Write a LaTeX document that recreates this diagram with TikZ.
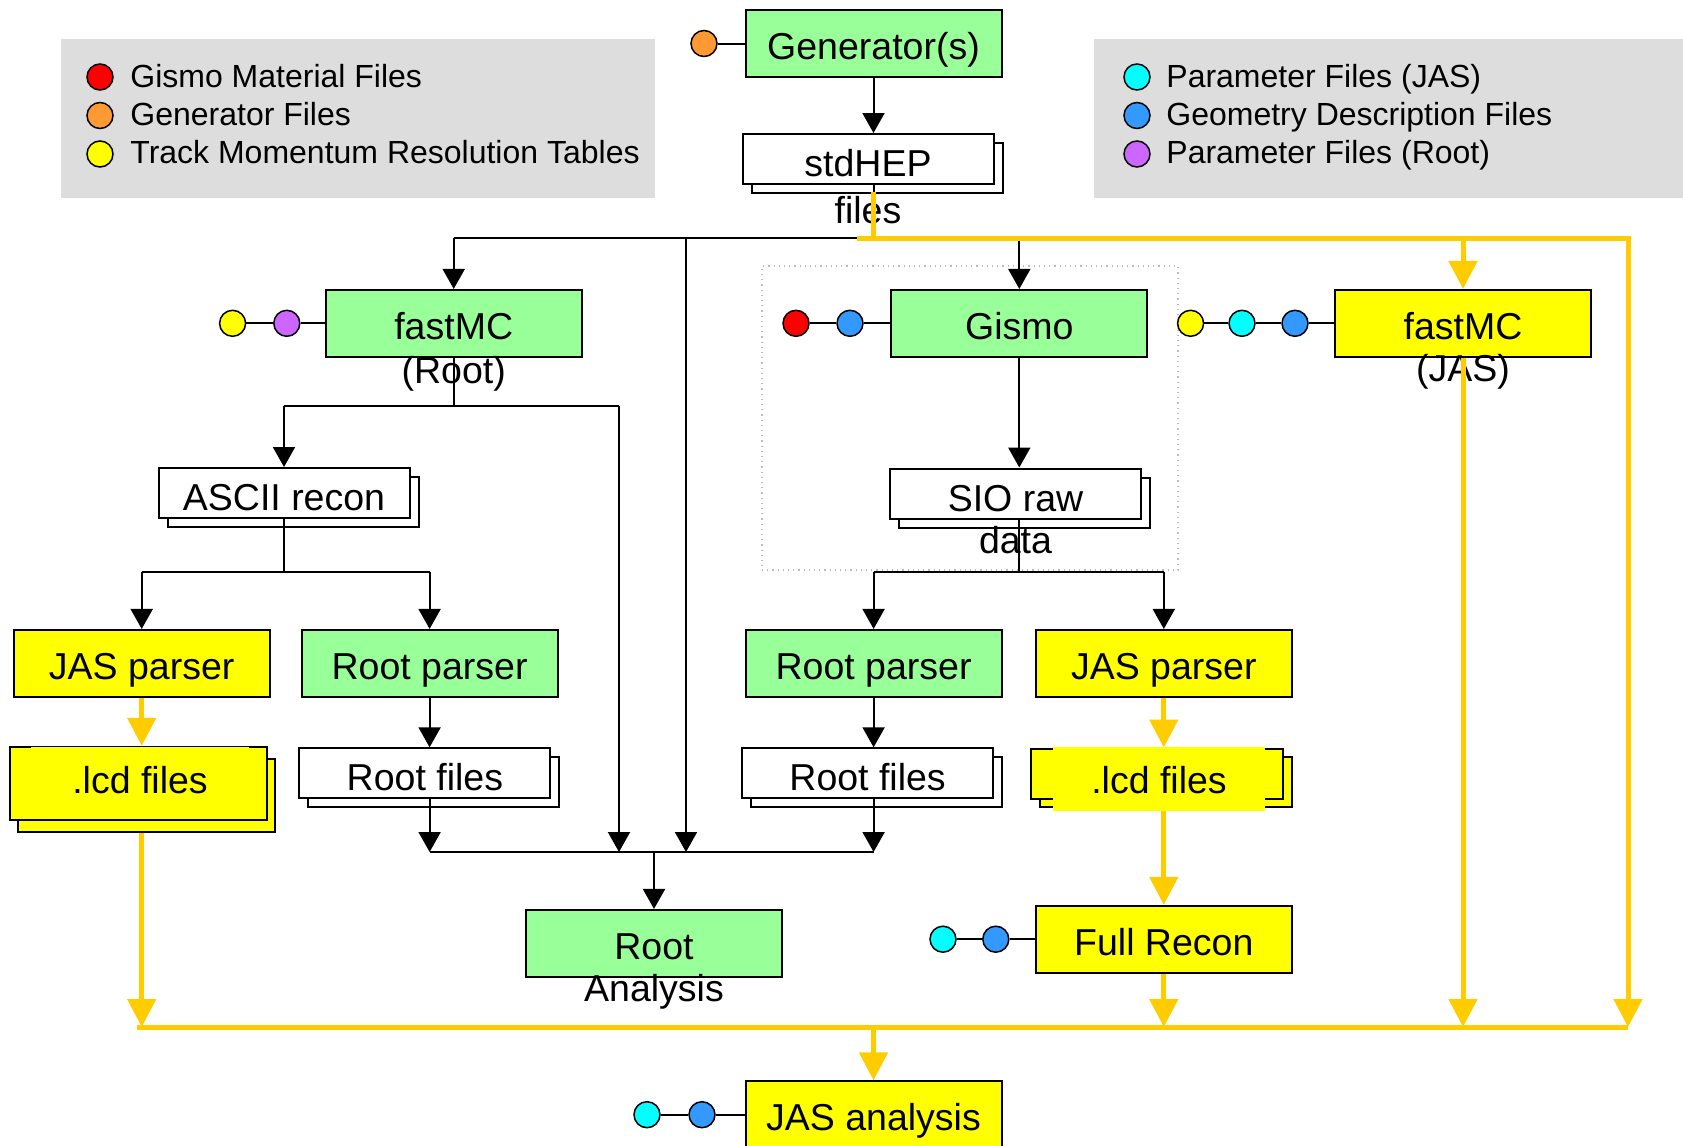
\documentclass[tikz,border=0pt]{standalone}
\usepackage{fontspec}
\setmainfont{Liberation Sans}
\usetikzlibrary{arrows.meta,shadows,calc}
\definecolor{boxgreen}{HTML}{99FF99}
\definecolor{boxyellow}{HTML}{FFFF00}
\definecolor{gold}{HTML}{FFCC00}
\definecolor{leggray}{HTML}{DDDDDD}
\definecolor{dotred}{HTML}{FF0000}
\definecolor{dotorange}{HTML}{FF9933}
\definecolor{dotyellow}{HTML}{FFFF00}
\definecolor{dotcyan}{HTML}{00FFFF}
\definecolor{dotblue}{HTML}{3399FF}
\definecolor{dotpurple}{HTML}{CC66FF}
\definecolor{grpgray}{HTML}{BBBBBB}
\begin{document}
\begin{tikzpicture}[x=0.5pt,y=-0.5pt,
  boxfont/.style={font=\fontsize{18.75}{22}\selectfont},
  box/.style={boxfont,draw=black,line width=1pt,inner sep=0pt,minimum width=128pt,minimum height=33.35pt,text height=16pt,text depth=0pt},
  grn/.style={box,fill=boxgreen},
  ylw/.style={box,fill=boxyellow},
  stackbase/.style={box,minimum width=125.5pt,minimum height=25pt,text height=17.5pt},
  wstack/.style={stackbase,fill=white,copy shadow={shadow xshift=4.5pt,shadow yshift=-4.5pt,fill=white,draw=black,line width=1pt}},
  sub/.style={boxfont,inner sep=0pt,anchor=base},
  lcdtxt/.style={boxfont,fill=boxyellow,inner sep=0pt,minimum width=109pt,minimum height=32pt,text height=14.5pt,text depth=0pt},
  legbox/.style={fill=leggray,inner sep=0pt},
  legtxt/.style={font=\fontsize{16}{19}\selectfont,inner sep=0pt,anchor=base west},
  dot/.style={circle,draw=black,line width=0.75pt,minimum size=13pt,inner sep=0pt},
  conn/.style={draw=black,line width=1pt},
  arr/.style={conn,-{Triangle[length=10pt,width=11pt]}},
  yconn/.style={draw=gold,line width=2.5pt},
  yarr/.style={yconn,-{Triangle[length=14pt,width=14pt]}}
]
\useasboundingbox (0,0) rectangle (1683,1146);
\clip (0,0) rectangle (1683,1146);

% legends
\node[legbox,minimum width=297pt,minimum height=79.5pt] (legL) at (358,118.5) {};
\node[legbox,minimum width=295pt,minimum height=79.5pt] (legR) at (1389,118.5) {};
\node[dot,fill=dotred] (lgA) at (100,77) {};
\node[legtxt] (ltA) at (130,87) {Gismo Material Files};
\node[dot,fill=dotorange] (lgB) at (100,115.5) {};
\node[legtxt] (ltB) at (130,125) {Generator Files};
\node[dot,fill=dotyellow] (lgC) at (100,154) {};
\node[legtxt] (ltC) at (130,163) {Track Momentum Resolution Tables};
\node[dot,fill=dotcyan] (lgD) at (1137,77) {};
\node[legtxt] (ltD) at (1166,87) {Parameter Files (JAS)};
\node[dot,fill=dotblue] (lgE) at (1137,115.5) {};
\node[legtxt] (ltE) at (1166,125) {Geometry Description Files};
\node[dot,fill=dotpurple] (lgF) at (1137,154) {};
\node[legtxt] (ltF) at (1166,163) {Parameter Files (Root)};

% Gismo group frame
\node[draw=grpgray,dotted,line width=0.6pt,minimum width=208pt,minimum height=152pt,inner sep=0pt] (grp) at (970,418) {};

% main nodes
\node[grn] (gen) at (873.5,43.5) {Generator(s)};
\node[wstack] (stdhep) at (868,159) {stdHEP};
\node[sub] (stdhep2) at (868,223) {files};
\node[grn] (fmcR) at (453.7,323.3) {fastMC};
\node[sub] (fmcR2) at (453.7,383) {(Root)};
\node[grn] (gismo) at (1019.3,323.3) {Gismo};
\node[ylw] (fmcJ) at (1463,323.3) {fastMC};
\node[sub] (fmcJ2) at (1463,381.7) {(JAS)};
\node[wstack] (ascii) at (284,493) {ASCII recon};
\node[wstack] (sio) at (1015.5,493.5) {SIO raw};
\node[sub] (sio2) at (1015.5,553) {data};
\node[ylw] (jpL) at (141.7,663.3) {JAS parser};
\node[grn] (rpL) at (429.6,663.3) {Root parser};
\node[grn] (rpR) at (873.6,663.3) {Root parser};
\node[ylw] (jpR) at (1163.8,663.3) {JAS parser};
\node[stackbase,fill=boxyellow,minimum width=128.5pt,minimum height=36.5pt,
  copy shadow={shadow xshift=4pt,shadow yshift=-6pt,fill=boxyellow,draw=black,line width=1pt}] (lcdL) at (138.3,783.3) {};
\node[lcdtxt] (lcdLt) at (140,778.7) {.lcd files};
\node[stackbase,fill=boxyellow,minimum width=126pt,minimum height=25pt,
  copy shadow={shadow xshift=4.5pt,shadow yshift=-4pt,fill=boxyellow,draw=black,line width=1pt}] (lcdR) at (1157,773.5) {};
\node[lcdtxt,minimum width=106pt] (lcdRt) at (1159,778.7) {.lcd files};
\node[wstack] (rfL) at (424.9,773.3) {Root files};
\node[wstack] (rfR) at (867.6,773.3) {Root files};
\node[grn] (rootA) at (654,943.3) {Root};
\node[sub] (rootA2) at (654,1001.7) {Analysis};
\node[ylw] (full) at (1163.8,939.2) {Full Recon};
\node[ylw] (jasA) at (873.5,1114.7) {JAS analysis};

% input file dots
\node[dot,fill=dotorange] (gO) at (704,43.5) {};
\draw[conn] (gO) -- (gO -| gen.west);
\node[dot,fill=dotyellow] (fr1) at (232.6,323.3) {};
\node[dot,fill=dotpurple] (fr2) at (286.8,323.3) {};
\draw[conn] (fr1) -- (fr2);
\draw[conn] (fr2) -- (fr2 -| fmcR.west);
\node[dot,fill=dotred] (gs1) at (796,323.3) {};
\node[dot,fill=dotblue] (gs2) at (850,323.3) {};
\draw[conn] (gs1) -- (gs2);
\draw[conn] (gs2) -- (gs2 -| gismo.west);
\node[dot,fill=dotyellow] (fj1) at (1190.6,323.3) {};
\node[dot,fill=dotcyan] (fj2) at (1242,323.3) {};
\node[dot,fill=dotblue] (fj3) at (1295,323.3) {};
\draw[conn] (fj1) -- (fj2);
\draw[conn] (fj2) -- (fj3);
\draw[conn] (fj3) -- (fj3 -| fmcJ.west);
\node[dot,fill=dotcyan] (fu1) at (943,939.2) {};
\node[dot,fill=dotblue] (fu2) at (995.8,939.2) {};
\draw[conn] (fu1) -- (fu2);
\draw[conn] (fu2) -- (fu2 -| full.west);
\node[dot,fill=dotcyan] (ja1) at (647,1114.7) {};
\node[dot,fill=dotblue] (ja2) at (702,1114.7) {};
\draw[conn] (ja1) -- (ja2);
\draw[conn] (ja2) -- (ja2 -| jasA.west);

% black connectors
\coordinate (busT) at (873.5,238);
\coordinate (tapA) at (686,238);
\coordinate (busB) at (654,852);
\coordinate (splitR) at (453.7,406);
\coordinate (tapR) at (619,406);
\coordinate (splitA) at (284,572);
\coordinate (splitS) at (1019.3,572);
\draw[arr] (gen.south) -- (gen.south |- stdhep.north);
\draw[conn] (gen.south |- stdhep.south) -- (busT);
\draw[conn] (fmcR.north |- busT) -- (gismo.north |- busT);
\draw[arr] (fmcR.north |- busT) -- (fmcR.north);
\draw[arr] (gismo.north |- busT) -- (gismo.north);
\draw[arr] (tapA) -- (tapA |- busB);
\draw[conn] (fmcR.south) -- (splitR);
\draw[conn] (ascii.north |- splitR) -- (tapR);
\draw[arr] (ascii.north |- splitR) -- (ascii.north);
\draw[arr] (tapR) -- (tapR |- busB);
\draw[conn] (ascii.south) -- (splitA);
\draw[conn] (jpL.north |- splitA) -- (rpL.north |- splitA);
\draw[arr] (jpL.north |- splitA) -- (jpL.north);
\draw[arr] (rpL.north |- splitA) -- (rpL.north);
\draw[arr] (rpL.south) -- (rpL.south |- rfL.north);
\draw[arr] (rpL.south |- rfL.south) -- (rpL.south |- busB);
\draw[conn] (rpL.south |- busB) -- (rpR.south |- busB);
\draw[arr] (busB) -- (rootA.north);
\draw[arr] (gismo.south) -- (gismo.south |- sio.north);
\draw[conn] (gismo.south |- sio.south) -- (splitS);
\draw[conn] (rpR.north |- splitS) -- (jpR.north |- splitS);
\draw[arr] (rpR.north |- splitS) -- (rpR.north);
\draw[arr] (jpR.north |- splitS) -- (jpR.north);
\draw[arr] (rpR.south) -- (rpR.south |- rfR.north);
\draw[arr] (rpR.south |- rfR.south) -- (rpR.south |- busB);

% yellow connectors
\coordinate (ytopL) at (857,238);
\coordinate (ytopR) at (1628,238);
\coordinate (ybusL) at (137,1027);
\coordinate (ybusR) at (1628,1027);
\coordinate (ybus) at (873.5,1027);
\draw[yconn] ($(gen.south |- stdhep.south)+(0,7)$) -- (busT);
\draw[yarr] (ytopL) -- (ytopR) -- (ybusR);
\draw[yarr] (fmcJ.north |- ytopR) -- (fmcJ.north);
\draw[yarr] (fmcJ.south) -- (fmcJ.south |- ybus);
\draw[yconn] (ybusL) -- (ybusR);
\draw[yarr] (jpL.south) -- (jpL.south |- lcdL.north);
\draw[yarr] ($(jpL.south |- lcdL.south)+(0,12)$) -- (jpL.south |- ybus);
\draw[yarr] (jpR.south) -- (jpR.south |- lcdR.north);
\draw[yarr] (jpR.south |- lcdRt.south) -- (full.north);
\draw[yarr] (full.south) -- (full.south |- ybus);
\draw[yarr] (ybus) -- (jasA.north);
\end{tikzpicture}
\end{document}
